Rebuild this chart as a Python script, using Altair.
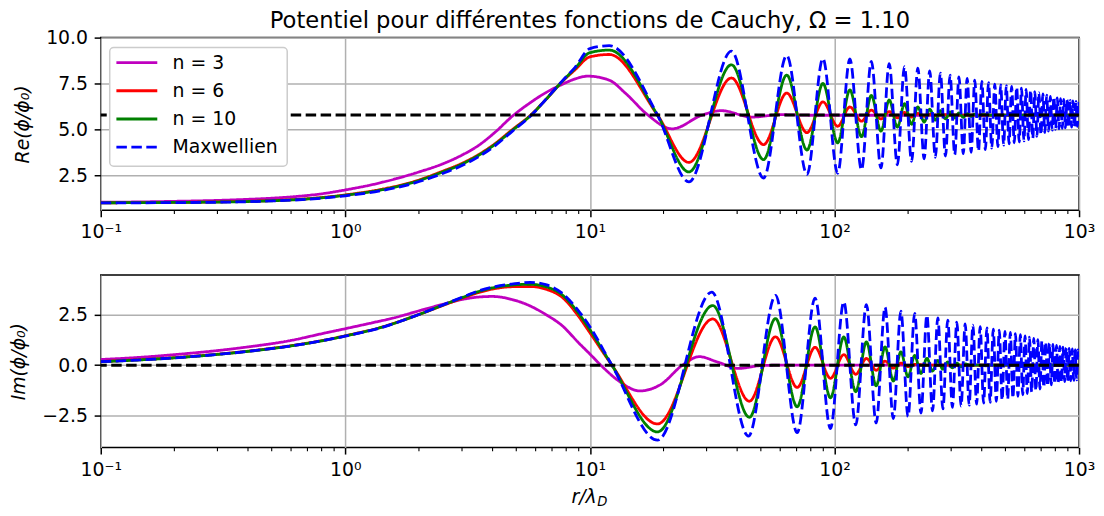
import altair as alt
import pandas as pd

FONT = "DejaVu Sans"

# ---------------- series definitions ----------------
names = ["n = 3", "n = 6", "n = 10", "Maxwellien"]
colors = ["#bf00bf", "#ff0000", "#008000", "#0000ff"]
dashes = [[1, 0], [1, 0], [1, 0], [10.5, 4.5]]

title_text = "Potentiel pour différentes fonctions de Cauchy, Ω = 1.10"
re_title = "Re(ϕ/ϕ₀)"
im_title = "Im(ϕ/ϕ₀)"

re_asym = 5.78
im_asym = 0.0

x_major = [0.1, 1, 10, 100, 1000]
x_minor = [0.2, 0.3, 0.4, 0.5, 0.6, 0.7, 0.8, 0.9,
           2, 3, 4, 5, 6, 7, 8, 9,
           20, 30, 40, 50, 60, 70, 80, 90,
           200, 300, 400, 500, 600, 700, 800, 900]
re_ticks = [2.5, 5.0, 7.5, 10.0]
im_ticks = [-2.5, 0.0, 2.5]

# ---------------- Re(phi/phi0) : (r, value) ----------------
re_n3 = [(0.1, 1.03), (0.15, 1.05), (0.2, 1.08), (0.3, 1.13), (0.4, 1.19), (0.5, 1.25),
         (0.6, 1.32), (0.8, 1.49), (1.0, 1.70), (1.3, 2.0), (1.6, 2.3), (2.0, 2.68),
         (2.5, 3.12), (3.0, 3.6), (3.5, 4.12), (4.1, 4.85), (4.8, 5.7), (5.7, 6.45),
         (6.6, 7.0), (7.7, 7.45), (8.7, 7.75), (9.8, 7.9), (12.0, 7.68), (14.0, 6.96),
         (17.2, 5.8), (21.7, 5.03), (28.8, 5.78), (34.5, 6.02), (46.0, 5.67),
         (60.0, 5.8), (80.0, 5.77), (1000, 5.77)]

re_n6 = [(0.1, 1.00), (0.15, 1.01), (0.2, 1.02), (0.3, 1.05), (0.4, 1.08), (0.5, 1.12),
         (0.7, 1.22), (1.0, 1.43), (1.4, 1.73), (1.9, 2.15), (2.5, 2.72), (3.0, 3.15),
         (3.5, 3.62), (4.1, 4.23), (4.8, 4.97), (5.75, 5.80), (6.6, 6.62), (7.7, 7.60),
         (8.7, 8.25), (10.0, 8.95), (12.0, 9.08), (18.9, 5.78), (25.4, 3.20), (37.9, 7.80),
         (51.3, 4.17), (63.8, 6.98), (77.2, 4.82), (89.7, 6.50), (103.1, 5.17),
         (115.6, 6.22), (129.0, 5.45), (141.5, 6.05), (154.9, 5.57), (167.4, 5.97),
         (180.8, 5.63), (193.3, 5.92), (206.7, 5.67), (219.2, 5.87), (232.6, 5.71),
         (245.1, 5.83), (258.5, 5.74), (275.0, 5.80), (320.0, 5.78), (1000, 5.78)]

re_n10 = [(0.1, 1.00), (0.15, 1.01), (0.2, 1.02), (0.3, 1.04), (0.4, 1.07), (0.5, 1.11),
          (0.7, 1.21), (1.0, 1.41), (1.4, 1.70), (1.9, 2.12), (2.5, 2.68), (3.0, 3.11),
          (3.5, 3.58), (4.1, 4.19), (4.8, 4.93), (5.75, 5.78), (6.6, 6.62), (7.7, 7.61),
          (8.7, 8.33), (10.0, 9.18), (12.0, 9.32), (18.9, 5.78), (25.4, 2.68), (37.9, 8.52),
          (51.3, 3.35), (63.8, 7.96), (77.2, 3.87), (89.7, 7.50), (103.1, 4.27),
          (115.6, 7.15), (129.0, 4.60), (141.5, 6.85), (154.9, 4.90), (167.4, 6.60),
          (180.8, 5.12), (193.3, 6.40), (206.7, 5.28), (219.2, 6.22), (232.6, 5.40),
          (245.1, 6.10), (258.5, 5.50), (271.0, 6.02), (284.4, 5.57), (296.9, 5.95),
          (310.3, 5.62), (322.8, 5.90), (336.2, 5.66), (348.7, 5.86), (362.1, 5.70),
          (374.6, 5.83), (388.0, 5.73), (400.5, 5.81), (440.0, 5.78), (1000, 5.78)]

re_maxw = [(0.1, 0.99), (0.15, 1.0), (0.2, 1.01), (0.3, 1.03), (0.4, 1.06), (0.5, 1.10),
           (0.7, 1.19), (1.0, 1.38), (1.4, 1.66), (1.9, 2.06), (2.5, 2.60), (3.0, 3.03),
           (3.5, 3.50), (4.1, 4.12), (4.8, 4.88), (5.75, 5.76), (6.6, 6.63), (7.7, 7.63),
           (8.7, 8.38), (10.0, 9.40), (12.0, 9.56), (18.9, 5.78),
           (25.4, 2.14), (37.9, 9.26), (51.3, 2.35), (63.8, 9.03), (77.2, 2.54),
           (89.7, 8.86), (103.1, 2.61), (115.6, 8.84), (129.0, 2.80), (141.5, 8.71),
           (154.9, 2.90), (167.4, 8.58), (180.8, 3.07), (193.3, 8.42), (206.7, 3.26),
           (219.2, 8.33), (232.6, 3.40), (245.1, 8.18), (258.5, 3.48), (271.0, 8.06),
           (284.4, 3.55), (296.9, 7.96), (310.3, 3.62), (322.8, 7.86), (336.2, 3.68),
           (348.7, 7.78), (362.1, 3.75), (374.6, 7.68), (388.0, 3.82), (400.5, 7.62),
           (413.9, 3.90), (426.4, 7.55), (439.8, 3.98), (452.3, 7.47), (465.7, 4.06),
           (478.2, 7.42), (491.6, 4.14), (504.1, 7.38), (517.5, 4.21), (530.0, 7.34),
           (543.4, 4.27), (555.9, 7.30), (569.3, 4.32), (581.8, 7.24), (595.2, 4.37),
           (607.7, 7.18), (621.1, 4.44), (633.6, 7.12), (647.0, 4.52), (659.5, 7.05),
           (672.9, 4.62), (685.4, 7.00), (698.8, 4.72), (711.3, 6.93), (724.7, 4.82),
           (737.2, 6.87), (750.6, 4.90), (763.1, 6.80), (776.5, 4.96), (789.0, 6.76),
           (802.4, 5.00), (814.9, 6.72), (828.3, 5.03), (840.8, 6.68), (854.2, 5.06),
           (866.7, 6.64), (880.1, 5.08), (892.6, 6.61), (906.0, 5.10), (918.5, 6.58),
           (931.9, 5.12), (944.4, 6.55), (957.8, 5.14), (970.3, 6.52), (983.7, 5.16),
           (996.2, 6.50), (1000, 6.30)]

# ---------------- Im(phi/phi0) ----------------
im_n3 = [(0.1, 0.28), (0.15, 0.40), (0.2, 0.52), (0.3, 0.72), (0.4, 0.90), (0.6, 1.22),
         (0.8, 1.55), (1.0, 1.80), (1.3, 2.10), (1.6, 2.35), (2.0, 2.68), (2.5, 3.0),
         (3.0, 3.24), (3.5, 3.36), (4.0, 3.39), (4.8, 3.24), (5.7, 2.92), (6.6, 2.5),
         (7.7, 1.95), (9.0, 1.1), (10.0, 0.55), (11.3, -0.1), (13.2, -0.8), (16.0, -1.27),
         (19.5, -0.95), (23.9, 0.0), (28.0, 0.42), (33.0, 0.17), (40.6, -0.16),
         (50.0, -0.02), (60.0, 0.0), (1000, 0.0)]

im_n6 = [(0.1, 0.18), (0.15, 0.28), (0.2, 0.37), (0.3, 0.54), (0.4, 0.69), (0.6, 0.96),
         (0.8, 1.21), (1.0, 1.45), (1.4, 1.87), (2.0, 2.5), (2.6, 3.02), (3.0, 3.3),
         (3.5, 3.58), (4.1, 3.78), (4.8, 3.87), (5.7, 3.88), (6.6, 3.75), (7.7, 3.35),
         (9.0, 2.4), (10.0, 1.6), (12.3, 0.0), (18.9, -2.90), (31.8, 2.28), (44.9, -1.78),
         (57.4, 1.40), (70.4, -1.10), (83.3, 0.88), (96.3, -0.65), (109.2, 0.52),
         (122.2, -0.45), (135.1, 0.33), (148.1, -0.25), (161.0, 0.20), (174.0, -0.15),
         (186.9, 0.10), (199.9, -0.07), (212.8, 0.04), (240.0, 0.0), (1000, 0.0)]

im_n10 = [(0.1, 0.17), (0.15, 0.27), (0.2, 0.36), (0.3, 0.53), (0.4, 0.68), (0.6, 0.95),
          (0.8, 1.2), (1.0, 1.44), (1.4, 1.86), (2.0, 2.5), (2.6, 3.04), (3.0, 3.33),
          (3.5, 3.63), (4.1, 3.84), (4.8, 3.95), (5.7, 3.99), (6.6, 3.87), (7.7, 3.47),
          (9.0, 2.55), (10.0, 1.75), (12.3, 0.0), (18.9, -3.29), (31.8, 2.94),
          (44.9, -2.57), (57.4, 2.30), (70.4, -2.05), (83.3, 1.89), (96.3, -1.61),
          (109.2, 1.39), (122.2, -1.31), (135.1, 1.15), (148.1, -1.02), (161.0, 0.90),
          (174.0, -0.78), (186.9, 0.66), (199.9, -0.58), (212.8, 0.48), (225.8, -0.41),
          (238.7, 0.34), (251.7, -0.29), (264.6, 0.24), (277.6, -0.20), (290.5, 0.16),
          (303.5, -0.13), (316.4, 0.10), (329.4, -0.08), (342.3, 0.06), (360.0, 0.0),
          (1000, 0.0)]

im_maxw = [(0.1, 0.17), (0.15, 0.27), (0.2, 0.36), (0.3, 0.53), (0.4, 0.68), (0.6, 0.95),
           (0.8, 1.2), (1.0, 1.43), (1.4, 1.85), (2.0, 2.5), (2.6, 3.05), (3.0, 3.35),
           (3.5, 3.66), (4.1, 3.88), (4.8, 4.0), (5.7, 4.08), (6.6, 3.97), (7.7, 3.55),
           (9.0, 2.67), (10.0, 1.9), (12.3, 0.0),
           (18.9, -3.70), (31.5, 3.60), (44.5, -3.50), (57.4, 3.44), (70.4, -3.33),
           (83.3, 3.31), (96.3, -3.13), (109.2, 3.12), (122.2, -2.95), (135.1, 2.98),
           (148.1, -2.85), (161.0, 2.86), (174.0, -2.63), (186.9, 2.66), (199.9, -2.54),
           (212.8, 2.55), (225.8, -2.36), (238.7, 2.46), (251.7, -2.25), (264.6, 2.33),
           (277.6, -2.16), (290.5, 2.22), (303.5, -2.08), (316.4, 2.12), (329.4, -2.02),
           (342.3, 2.04), (355.3, -1.97), (368.2, 1.97), (381.2, -1.92), (394.1, 1.90),
           (407.1, -1.87), (420.0, 1.84), (433.0, -1.83), (445.9, 1.78), (458.9, -1.78),
           (471.8, 1.73), (484.8, -1.73), (497.7, 1.67), (510.7, -1.68), (523.6, 1.62),
           (536.6, -1.62), (549.5, 1.56), (562.5, -1.54), (575.4, 1.50), (588.4, -1.46),
           (601.3, 1.44), (614.3, -1.40), (627.2, 1.38), (640.2, -1.32), (653.1, 1.32),
           (666.1, -1.25), (679.0, 1.26), (692.0, -1.18), (704.9, 1.20), (717.9, -1.10),
           (730.8, 1.14), (743.8, -1.03), (756.7, 1.08), (769.7, -0.97), (782.6, 1.03),
           (795.6, -0.92), (808.5, 0.98), (821.5, -0.87), (834.4, 0.93), (847.4, -0.84),
           (860.3, 0.89), (873.3, -0.81), (886.2, 0.86), (899.2, -0.79), (912.1, 0.83),
           (925.1, -0.77), (938.0, 0.80), (951.0, -0.75), (963.9, 0.77), (976.9, -0.73),
           (989.8, 0.75), (1000, 0.40)]


def frame(series_lists):
    rows = []
    for name, pts in zip(names, series_lists):
        for r, v in pts:
            rows.append({"series": name, "r": r, "v": v})
    return pd.DataFrame(rows)


re_df = frame([re_n3, re_n6, re_n10, re_maxw])
im_df = frame([im_n3, im_n6, im_n10, im_maxw])

# ---------------- geometry / style ----------------
W = 981
H = 173
FS = 18.9
LW = 2.8
GRID = "#b0b0b0"

color_scale = alt.Scale(domain=names, range=colors)
dash_scale = alt.Scale(domain=names, range=dashes)

label_expr = ("datum.value < 0.5 ? '10⁻¹' : datum.value < 5 ? '10⁰' : "
              "datum.value < 50 ? '10¹' : datum.value < 500 ? '10²' : '10³'")

x_axis = alt.Axis(values=x_major, labelExpr=label_expr, title=None, grid=True,
                  gridColor=GRID, gridWidth=1.5, domain=False, tickSize=6.6,
                  tickWidth=1.5, tickColor="black", labelFontSize=FS, labelFont=FONT,
                  labelColor="black", labelPadding=6.0, labelFlush=False,
                  labelOverlap=False)
x_scale = alt.Scale(type="log", domain=[0.1, 1000], nice=False)


def y_axis(vals, title):
    return alt.Axis(values=vals, format=".1f", title=title, grid=True, gridColor=GRID,
                    gridWidth=1.5, domain=False, tickSize=6.6, tickWidth=1.5,
                    tickColor="black", labelFontSize=FS, labelFont=FONT,
                    labelColor="black", labelPadding=6.6, labelOverlap=False,
                    titleFontSize=FS, titleFont=FONT, titleFontStyle="italic",
                    titleFontWeight="normal", titleColor="black", titlePadding=13)


def panel(df, asym, ydomain, yvals, ytitle):
    X = alt.X("r:Q", scale=x_scale, axis=x_axis)
    Y = alt.Y("v:Q", scale=alt.Scale(domain=ydomain, nice=False, zero=False),
              axis=y_axis(yvals, ytitle))
    layers = []
    for name in names:
        layers.append(
            alt.Chart(df).transform_filter(alt.datum.series == name)
            .mark_line(interpolate="monotone", strokeWidth=LW, clip=True)
            .encode(x=X, y=Y,
                    color=alt.Color("series:N", scale=color_scale, legend=None),
                    strokeDash=alt.StrokeDash("series:N", scale=dash_scale, legend=None))
        )
    layers.append(
        alt.Chart(pd.DataFrame({"v": [asym]}))
        .mark_rule(color="black", strokeWidth=3, strokeDash=[10.5, 4.5])
        .encode(y=Y)
    )
    layers.append(
        alt.Chart(pd.DataFrame({"m": x_minor}))
        .mark_rule(color="black", strokeWidth=1.1)
        .encode(x=alt.X("m:Q", scale=x_scale, axis=x_axis),
                y=alt.value(H), y2=alt.value(H + 3.8))
    )
    return layers


# ---------------- top panel (Re) ----------------
top_layers = panel(re_df, re_asym, [0.6, 10.0], re_ticks, re_title)

leg_df = pd.DataFrame({"series": names})
legend_box = alt.Chart(pd.DataFrame({"a": [0]})).mark_rect(
    fill="white", fillOpacity=1.0, stroke="#cccccc", strokeWidth=1.5, cornerRadius=4
).encode(x=alt.value(9), x2=alt.value(187), y=alt.value(10), y2=alt.value(129))
legend_lines = alt.Chart(leg_df).transform_window(idx="row_number()").transform_calculate(
    ly="25 + 28.3 * (datum.idx - 1)"
).mark_rule(strokeWidth=LW).encode(
    x=alt.value(15.7), x2=alt.value(56.7), y=alt.Y("ly:Q", scale=None),
    color=alt.Color("series:N", scale=color_scale, legend=None),
    strokeDash=alt.StrokeDash("series:N", scale=dash_scale, legend=None))
legend_text = alt.Chart(leg_df).transform_window(idx="row_number()").transform_calculate(
    ly="25 + 28.3 * (datum.idx - 1)"
).mark_text(align="left", baseline="middle", fontSize=FS, font=FONT, color="black").encode(
    x=alt.value(72), y=alt.Y("ly:Q", scale=None), text="series:N")

top = alt.layer(*top_layers, legend_box, legend_lines, legend_text).properties(
    width=W, height=H,
    title=alt.TitleParams(title_text, fontSize=22.7, font=FONT, fontWeight="normal",
                          color="black", anchor="middle", frame="group", offset=-4))

# ---------------- bottom panel (Im) ----------------
bot_layers = panel(im_df, im_asym, [-4.06, 4.45], im_ticks, im_title)
xt_main = alt.Chart(pd.DataFrame({"t": ["r/λ"]})).mark_text(
    align="left", baseline="alphabetic", fontSize=FS, font=FONT, fontStyle="italic",
    color="black").encode(x=alt.value(472), y=alt.value(229), text="t:N")
xt_sub = alt.Chart(pd.DataFrame({"t": ["D"]})).mark_text(
    align="left", baseline="alphabetic", fontSize=13.2, font=FONT, fontStyle="italic",
    color="black").encode(x=alt.value(498), y=alt.value(232), text="t:N")

bottom = alt.layer(*bot_layers, xt_main, xt_sub).properties(width=W, height=H)

chart = alt.vconcat(top, bottom, spacing=31).properties(
    padding={"left": 1, "top": 0, "right": 0, "bottom": 0}
).configure_view(stroke="black", strokeWidth=1.5)

chart.save("out.html", embed_options={"renderer": "svg", "actions": False})
